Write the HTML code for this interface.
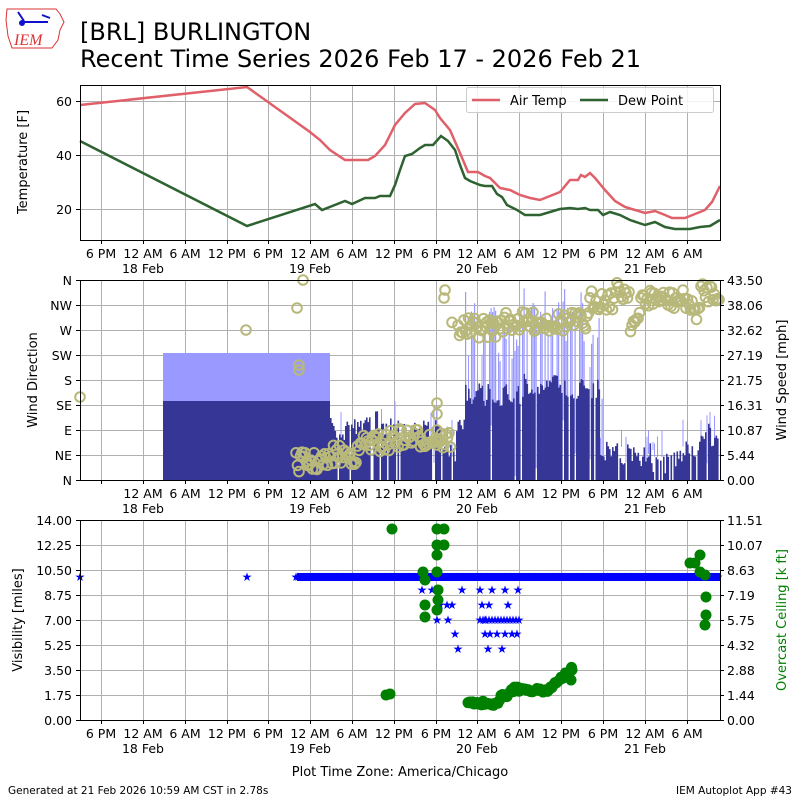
<!DOCTYPE html>
<html><head><meta charset="utf-8"><style>
body{margin:0;background:#fff}
svg{display:block;font-family:"DejaVu Sans","Liberation Sans",sans-serif}
</style></head><body>
<svg id="s" width="800" height="800" viewBox="0 0 800 800" xmlns="http://www.w3.org/2000/svg">
<rect width="800" height="800" fill="#fff"/>
<g fill="none" stroke="#d33" stroke-width="1">
<path d="M7 9 L56 9 L60 14 L64 22 L60 30 L58 40 L52 48 L12 48 L8 36 L6 20 Z"/>
</g>
<g stroke="#11c" stroke-width="2" fill="#11c"><line x1="22" y1="22" x2="48" y2="22"/><line x1="18" y1="12" x2="24" y2="21"/><line x1="42" y1="15" x2="50" y2="18"/><circle cx="22" cy="23" r="2"/></g>
<text x="14" y="45" font-family="Liberation Serif,serif" font-style="italic" font-size="16" fill="#d33">IEM</text>
<text x="80" y="40" font-size="24">[BRL] BURLINGTON</text>
<text x="80" y="67" font-size="24">Recent Time Series 2026 Feb 17 - 2026 Feb 21</text>
<g id="grid" stroke="#b0b0b0" stroke-width="1"></g>
<g id="data"></g>
<g id="frames" fill="none" stroke="#000" stroke-width="1">
<rect x="80.5" y="85.5" width="640" height="155"/>
<rect x="80.5" y="280.5" width="640" height="200"/>
<rect x="80.5" y="520.5" width="640" height="200"/>
</g>
<g id="ticks" font-size="12.5"></g>
<text transform="translate(27,162) rotate(-90)" text-anchor="middle" font-size="13">Temperature [F]</text>
<text transform="translate(37,380) rotate(-90)" text-anchor="middle" font-size="13">Wind Direction</text>
<text transform="translate(786,380) rotate(-90)" text-anchor="middle" font-size="13">Wind Speed [mph]</text>
<text transform="translate(22,620) rotate(-90)" text-anchor="middle" font-size="13">Visibility [miles]</text>
<text transform="translate(786,620) rotate(-90)" text-anchor="middle" font-size="13" fill="green">Overcast Ceiling [k ft]</text>
<text x="400" y="776" text-anchor="middle" font-size="13">Plot Time Zone: America/Chicago</text>
<text x="8" y="794" font-size="10.5">Generated at 21 Feb 2026 10:59 AM CST in 2.78s</text>
<text x="792" y="794" text-anchor="end" font-size="10.5">IEM Autoplot App #43</text>
<rect x="466.5" y="87.5" width="247" height="25" fill="#fff" fill-opacity="0.85" stroke="#ccc" rx="2"/>
<line x1="472" y1="100" x2="500" y2="100" stroke="#e0606a" stroke-width="2.5"/>
<text x="510" y="105" font-size="13">Air Temp</text>
<line x1="580" y1="100" x2="608" y2="100" stroke="#2e6231" stroke-width="2.5"/>
<text x="618" y="105" font-size="13">Dew Point</text>
</svg>
<script>
var NS="http://www.w3.org/2000/svg",D=document.getElementById("data"),G=document.getElementById("grid"),T=document.getElementById("ticks");
function el(p,n,a){var e=document.createElementNS(NS,n);for(var k in a)e.setAttribute(k,a[k]);p.appendChild(e);return e}
function tx(p,x,y,s,a,f){var e=el(p,"text",{x:x,y:y,"text-anchor":a||"middle"});if(f)e.setAttribute("fill",f);e.textContent=s;return e}
var seed=7;function r(){seed=(seed*16807)%2147483647;return seed/2147483647}
var xs=[101,143,185,227,268,310,352,394,436,477,519,561,603,645,687];
var lab=["6 PM","12 AM","6 AM","12 PM","6 PM","12 AM","6 AM","12 PM","6 PM","12 AM","6 AM","12 PM","6 PM","12 AM","6 AM"];
var panels=[[85,240],[280,480],[520,720]];
panels.forEach(function(p,i){xs.forEach(function(x,j){el(G,"line",{x1:x+.5,x2:x+.5,y1:p[0],y2:p[1]});el(T,"line",{x1:x+.5,x2:x+.5,y1:p[1],y2:p[1]+4,stroke:"#000"});
 if(!(i==1&&j==0))tx(T,x,p[1]+18,lab[j]);});
 [[143,"18 Feb"],[310,"19 Feb"],[477,"20 Feb"],[645,"21 Feb"]].forEach(function(d){tx(T,d[0],p[1]+33,d[1])});});
[[101,"60"],[155,"40"],[209,"20"]].forEach(function(t){el(G,"line",{x1:80,x2:720,y1:t[0]+.5,y2:t[0]+.5});el(T,"line",{x1:76,x2:80,y1:t[0]+.5,y2:t[0]+.5,stroke:"#000"});tx(T,72,t[0]+5,t[1],"end")});
var dl=["N","NW","W","SW","S","SE","E","NE","N"],sl=["43.50","38.06","32.62","27.19","21.75","16.31","10.87","5.44","0.00"];
for(var i=0;i<9;i++){var y=280+i*25;el(G,"line",{x1:80,x2:720,y1:y+.5,y2:y+.5});el(T,"line",{x1:76,x2:80,y1:y+.5,y2:y+.5,stroke:"#000"});el(T,"line",{x1:720,x2:724,y1:y+.5,y2:y+.5,stroke:"#000"});tx(T,72,y+5,dl[i],"end");tx(T,727,y+5,sl[i],"start");}
var vl=["14.00","12.25","10.50","8.75","7.00","5.25","3.50","1.75","0.00"],cl=["11.51","10.07","8.63","7.19","5.75","4.32","2.88","1.44","0.00"];
for(var i=0;i<9;i++){var y=520+i*25;el(G,"line",{x1:80,x2:720,y1:y+.5,y2:y+.5});el(T,"line",{x1:76,x2:80,y1:y+.5,y2:y+.5,stroke:"#000"});el(T,"line",{x1:720,x2:724,y1:y+.5,y2:y+.5,stroke:"#000"});tx(T,72,y+5,vl[i],"end");tx(T,727,y+5,cl[i],"start");}
var tp="80,105 247,87 310,132 320,140 330,150 345,160 355,160 368,160 375,156 385,145 395,125 405,113 415,104 425,103 435,110 440,118 450,130 460,153 468,172 478,172 485,176 490,178 500,188 510,190 520,195 530,198 540,200 550,196 560,192 570,180 578,180 581,175 585,177 590,173 595,178 605,190 615,201 625,207 635,210 645,213 655,211 665,215 672,218 685,218 695,214 705,210 712,202 720,186";
var dp="80,141 247,226 315,204 322,210 345,201 352,204 365,198 375,198 380,196 390,196 395,185 400,170 405,156 412,154 420,148 425,145 433,145 441,136 448,141 455,150 460,165 465,178 470,181 480,185 485,186 492,186 497,194 502,197 507,205 517,210 525,215 540,215 550,212 560,209 570,208 578,209 585,208 590,210 598,210 603,215 610,212 620,215 630,220 645,225 655,222 665,227 675,229 690,229 700,227 710,226 720,220";
var W=el(D,"g",{});
el(W,"rect",{x:163,y:353,width:167,height:127,fill:"#9999ff"});
el(W,"rect",{x:163,y:401,width:167,height:79,fill:"#363696"});
function base(x){if(x<360)return 430;if(x<380)return 420;if(x<420)return 430;if(x<440)return 432;if(x<455)return 455;if(x<465)return 420;if(x<520)return 395;if(x<560)return 385;if(x<600)return 390;if(x<610)return 450;if(x<650)return 455;if(x<680)return 462;if(x<700)return 450;return 435}
for(var x=330;x<720;x+=1.5){var b=base(x)+(r()-.5)*24;b=Math.min(b,478);
 if(x>460&&x<605&&r()<.6){el(W,"rect",{x:x,y:b-40-r()*60,width:1.2,height:480-b+40,fill:"#9999ff"})}
 else if(r()<.15){el(W,"rect",{x:x,y:b-15-r()*20,width:1,height:480-b,fill:"#9999ff"})}
 if(r()<.1)continue;
 el(W,"rect",{x:x,y:b,width:1.6,height:480-b,fill:"#363696"});}
function dir(x){if(x<330)return 462;if(x<360)return 455;if(x<390)return 443;if(x<440)return 438;if(x<452)return 440;if(x<500)return 328;if(x<590)return 322;if(x<615)return 300;if(x<630)return 292;if(x<640)return 322;if(x<660)return 298;if(x<690)return 300;if(x<700)return 310;return 292}
var C=el(D,"g",{fill:"none",stroke:"#b8b87a","stroke-width":"2"});
[[80,397],[246,330],[297,308],[303,280],[299,365],[299,370],[437,403],[437,414],[445,290],[444,298],[437,430],[437,445]].forEach(function(p){el(C,"circle",{cx:p[0],cy:p[1],r:4.8})});
for(var x=296;x<720;x+=1.5){if(x>452&&x<458)continue;el(C,"circle",{cx:x,cy:dir(x)+(r()-.5)*20,r:4.8});}
el(D,"polyline",{points:tp,fill:"none",stroke:"#e0606a","stroke-width":2.5});
el(D,"polyline",{points:dp,fill:"none",stroke:"#2e6231","stroke-width":2.5});
el(D,"rect",{x:297,y:573,width:423,height:8,fill:"#00f"});
var S=el(D,"g",{fill:"#00f","font-size":"12","text-anchor":"middle"});
function star(x,y){tx(S,x,y+4,"★");}
star(80,577);star(247,577);star(296,577);
for(var x=298;x<720;x+=3)star(x,577);
[[422,590],[432,590],[440,605],[447,605],[452,605],[437,620],[448,620],[455,634],[458,649],[462,590],[480,590],[492,590],[505,590],[518,590],[482,605],[485,620],[497,634],[505,634],[512,634],[517,634],[488,649],[502,649],[508,605],[489,605],[485,634],[490,634]].forEach(function(p){star(p[0],p[1])});
for(var x=480;x<522;x+=3)star(x,620);
var Cc=el(D,"g",{fill:"green"});
function gc(x,y){el(Cc,"circle",{cx:x,cy:y,r:5.5})}
[[392,529],[437,529],[444,529],[437,545],[444,545],[437,555],[423,572],[425,580],[425,605],[425,617],[437,572],[438,590],[438,600],[437,610],[386,695],[390,694],[690,563],[695,563],[700,555],[700,572],[705,575],[706,597],[706,615],[705,625]].forEach(function(p){gc(p[0],p[1])});
for(var x=468;x<573;x+=1.5){var y;if(x<488)y=703;else if(x<500)y=705-(x-488)*0.3;else if(x<510)y=695;else if(x<550)y=690+(r()-.5)*3;else y=688-(x-550)*0.9;gc(x,y+(r()-.5)*4);}
gc(572,670);gc(571,680);
</script>
</body></html>
